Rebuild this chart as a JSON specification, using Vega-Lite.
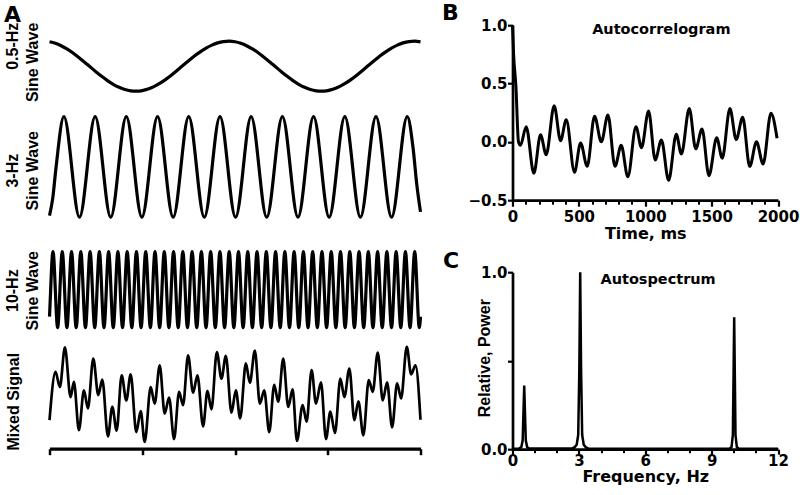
{
"$schema":"https://vega.github.io/schema/vega-lite/v6.json",
"padding":{"left":3.5,"top":1.2,"right":0,"bottom":12},
"bounds":"flush",
"spacing":92,
"config":{"view":{"stroke":null},
"axis":{"labelFont":"DejaVu Sans","labelFontSize":15,"labelFontWeight":"bold","labelColor":"black","titleFont":"DejaVu Sans","titleFontSize":16,"titleFontWeight":"bold","titleColor":"black","domainColor":"black","tickColor":"black","domainWidth":2.7,"tickWidth":2.2,"grid":false,"labelFlush":false,"labelOverlap":false}},
"datasets":{
"w05":[{"t":0,"v":0.976},{"t":0.0625,"v":0.915},{"t":0.125,"v":0.818},{"t":0.1875,"v":0.69},{"t":0.25,"v":0.536},{"t":0.3125,"v":0.361},{"t":0.375,"v":0.172},{"t":0.4375,"v":-0.024},{"t":0.5,"v":-0.218},{"t":0.5625,"v":-0.404},{"t":0.625,"v":-0.575},{"t":0.6875,"v":-0.723},{"t":0.75,"v":-0.844},{"t":0.8125,"v":-0.933},{"t":0.875,"v":-0.985},{"t":0.9375,"v":-1},{"t":1,"v":-0.976},{"t":1.0625,"v":-0.915},{"t":1.125,"v":-0.818},{"t":1.1875,"v":-0.69},{"t":1.25,"v":-0.536},{"t":1.3125,"v":-0.361},{"t":1.375,"v":-0.172},{"t":1.4375,"v":0.024},{"t":1.5,"v":0.218},{"t":1.5625,"v":0.404},{"t":1.625,"v":0.575},{"t":1.6875,"v":0.723},{"t":1.75,"v":0.844},{"t":1.8125,"v":0.933},{"t":1.875,"v":0.985},{"t":1.9375,"v":1},{"t":2,"v":0.976},{"t":2.0625,"v":0.915},{"t":2.125,"v":0.818},{"t":2.1875,"v":0.69},{"t":2.25,"v":0.536},{"t":2.3125,"v":0.361},{"t":2.375,"v":0.172},{"t":2.4375,"v":-0.024},{"t":2.5,"v":-0.218},{"t":2.5625,"v":-0.404},{"t":2.625,"v":-0.575},{"t":2.6875,"v":-0.723},{"t":2.75,"v":-0.844},{"t":2.8125,"v":-0.933},{"t":2.875,"v":-0.985},{"t":2.9375,"v":-1},{"t":3,"v":-0.976},{"t":3.0625,"v":-0.915},{"t":3.125,"v":-0.818},{"t":3.1875,"v":-0.69},{"t":3.25,"v":-0.536},{"t":3.3125,"v":-0.361},{"t":3.375,"v":-0.172},{"t":3.4375,"v":0.024},{"t":3.5,"v":0.218},{"t":3.5625,"v":0.404},{"t":3.625,"v":0.575},{"t":3.6875,"v":0.723},{"t":3.75,"v":0.844},{"t":3.8125,"v":0.933},{"t":3.875,"v":0.985},{"t":3.9375,"v":1},{"t":4,"v":0.976}],
"w3":[{"t":0,"v":-0.969},{"t":0.035,"v":-0.621},{"t":0.07,"v":-0.016},{"t":0.155,"v":1},{"t":0.323,"v":-1},{"t":0.492,"v":1},{"t":0.66,"v":-1},{"t":0.828,"v":1},{"t":0.996,"v":-1},{"t":1.165,"v":1},{"t":1.333,"v":-1},{"t":1.501,"v":1},{"t":1.669,"v":-1},{"t":1.838,"v":1},{"t":2.006,"v":-1},{"t":2.174,"v":1},{"t":2.342,"v":-1},{"t":2.511,"v":1},{"t":2.679,"v":-1},{"t":2.847,"v":1},{"t":3.015,"v":-1},{"t":3.184,"v":1},{"t":3.352,"v":-1},{"t":3.52,"v":1},{"t":3.688,"v":-1},{"t":3.857,"v":1},{"t":3.92,"v":0.376},{"t":3.96,"v":-0.353},{"t":4,"v":-0.894}],
"w10":[{"t":0,"v":-0.707},{"t":0.0125,"v":0},{"t":0.025,"v":0.707},
{"t":0.0375,"v":1},{"t":0.0875,"v":-1},{"t":0.1375,"v":1},{"t":0.1875,"v":-1},{"t":0.2375,"v":1},{"t":0.2875,"v":-1},{"t":0.3375,"v":1},{"t":0.3875,"v":-1},{"t":0.4375,"v":1},{"t":0.4875,"v":-1},{"t":0.5375,"v":1},{"t":0.5875,"v":-1},{"t":0.6375,"v":1},{"t":0.6875,"v":-1},{"t":0.7375,"v":1},{"t":0.7875,"v":-1},{"t":0.8375,"v":1},{"t":0.8875,"v":-1},{"t":0.9375,"v":1},{"t":0.9875,"v":-1},
{"t":1.0375,"v":1},{"t":1.0875,"v":-1},{"t":1.1375,"v":1},{"t":1.1875,"v":-1},{"t":1.2375,"v":1},{"t":1.2875,"v":-1},{"t":1.3375,"v":1},{"t":1.3875,"v":-1},{"t":1.4375,"v":1},{"t":1.4875,"v":-1},{"t":1.5375,"v":1},{"t":1.5875,"v":-1},{"t":1.6375,"v":1},{"t":1.6875,"v":-1},{"t":1.7375,"v":1},{"t":1.7875,"v":-1},{"t":1.8375,"v":1},{"t":1.8875,"v":-1},{"t":1.9375,"v":1},{"t":1.9875,"v":-1},
{"t":2.0375,"v":1},{"t":2.0875,"v":-1},{"t":2.1375,"v":1},{"t":2.1875,"v":-1},{"t":2.2375,"v":1},{"t":2.2875,"v":-1},{"t":2.3375,"v":1},{"t":2.3875,"v":-1},{"t":2.4375,"v":1},{"t":2.4875,"v":-1},{"t":2.5375,"v":1},{"t":2.5875,"v":-1},{"t":2.6375,"v":1},{"t":2.6875,"v":-1},{"t":2.7375,"v":1},{"t":2.7875,"v":-1},{"t":2.8375,"v":1},{"t":2.8875,"v":-1},{"t":2.9375,"v":1},{"t":2.9875,"v":-1},
{"t":3.0375,"v":1},{"t":3.0875,"v":-1},{"t":3.1375,"v":1},{"t":3.1875,"v":-1},{"t":3.2375,"v":1},{"t":3.2875,"v":-1},{"t":3.3375,"v":1},{"t":3.3875,"v":-1},{"t":3.4375,"v":1},{"t":3.4875,"v":-1},{"t":3.5375,"v":1},{"t":3.5875,"v":-1},{"t":3.6375,"v":1},{"t":3.6875,"v":-1},{"t":3.7375,"v":1},{"t":3.7875,"v":-1},{"t":3.8375,"v":1},{"t":3.8875,"v":-1},{"t":3.9375,"v":1},{"t":3.9875,"v":-1},{"t":4,"v":-0.707}],
"mix":[{"t":0,"v":-0.55},{"t":0.065,"v":0.47},{"t":0.112,"v":0.15},{"t":0.166,"v":0.99},{"t":0.227,"v":-0.06},{"t":0.263,"v":0.26},{"t":0.317,"v":-0.76},{"t":0.371,"v":0.08},{"t":0.414,"v":-0.3},{"t":0.472,"v":0.75},{"t":0.526,"v":-0.02},{"t":0.569,"v":0.31},{"t":0.63,"v":-0.89},{"t":0.677,"v":-0.27},{"t":0.724,"v":-0.77},{"t":0.778,"v":0.4},{"t":0.828,"v":-0.13},{"t":0.875,"v":0.42},{"t":0.936,"v":-0.8},{"t":0.983,"v":-0.36},{"t":1.026,"v":-1.01},{"t":1.091,"v":0.15},{"t":1.134,"v":-0.2},{"t":1.188,"v":0.61},{"t":1.242,"v":-0.41},{"t":1.289,"v":-0.07},{"t":1.343,"v":-0.95},{"t":1.397,"v":0.05},{"t":1.44,"v":-0.23},{"t":1.494,"v":0.82},{"t":1.548,"v":0.03},{"t":1.595,"v":0.4},{"t":1.656,"v":-0.68},{"t":1.703,"v":0.07},{"t":1.746,"v":-0.32},{"t":1.804,"v":0.89},{"t":1.854,"v":0.33},{"t":1.901,"v":0.81},{"t":1.962,"v":-0.39},{"t":2.009,"v":0.08},{"t":2.056,"v":-0.51},{"t":2.117,"v":0.65},{"t":2.16,"v":0.24},{"t":2.214,"v":0.92},{"t":2.268,"v":-0.2},{"t":2.315,"v":0.08},{"t":2.369,"v":-0.8},{"t":2.423,"v":0.2},{"t":2.466,"v":-0.16},{"t":2.52,"v":0.75},{"t":2.574,"v":-0.27},{"t":2.621,"v":0.1},{"t":2.668,"v":-0.99},{"t":2.729,"v":-0.23},{"t":2.772,"v":-0.58},{"t":2.826,"v":0.51},{"t":2.873,"v":-0.2},{"t":2.927,"v":0.25},{"t":2.981,"v":-0.95},{"t":3.028,"v":-0.37},{"t":3.078,"v":-0.82},{"t":3.136,"v":0.33},{"t":3.179,"v":-0.06},{"t":3.233,"v":0.54},{"t":3.287,"v":-0.55},{"t":3.33,"v":-0.15},{"t":3.384,"v":-0.87},{"t":3.442,"v":0.3},{"t":3.485,"v":0.05},{"t":3.539,"v":0.88},{"t":3.593,"v":-0.13},{"t":3.64,"v":0.25},{"t":3.694,"v":-0.7},{"t":3.748,"v":0.23},{"t":3.791,"v":-0.09},{"t":3.852,"v":1.0},{"t":3.899,"v":0.42},{"t":3.946,"v":0.61},{"t":4,"v":-0.54}],
"acg":[{"t":0,"v":1.0},{"t":8,"v":0.76},{"t":26,"v":0.47},{"t":45,"v":0.0},{"t":60,"v":-0.03},{"t":103,"v":0.13},{"t":161,"v":-0.27},{"t":211,"v":0.06},{"t":254,"v":-0.11},{"t":314,"v":0.31},{"t":362,"v":0.01},{"t":405,"v":0.19},{"t":467,"v":-0.26},{"t":513,"v":-0.01},{"t":563,"v":-0.21},{"t":618,"v":0.22},{"t":669,"v":0.0},{"t":719,"v":0.23},{"t":772,"v":-0.21},{"t":819,"v":-0.03},{"t":869,"v":-0.3},{"t":930,"v":0.13},{"t":972,"v":-0.05},{"t":1025,"v":0.265},{"t":1075,"v":-0.155},{"t":1122,"v":0.015},{"t":1176,"v":-0.33},{"t":1234,"v":0.065},{"t":1272,"v":-0.105},{"t":1332,"v":0.285},{"t":1380,"v":-0.06},{"t":1428,"v":0.11},{"t":1480,"v":-0.29},{"t":1538,"v":0.035},{"t":1580,"v":-0.14},{"t":1638,"v":0.285},{"t":1685,"v":0.02},{"t":1734,"v":0.21},{"t":1787,"v":-0.21},{"t":1838,"v":0.0},{"t":1888,"v":-0.19},{"t":1947,"v":0.245},{"t":1993,"v":0.03}],
"spec":[{"f":0,"p":0.003},{"f":0.3,"p":0.004},{"f":0.4,"p":0.012},{"f":0.46,"p":0.05},{"f":0.53,"p":0.36},{"f":0.6,"p":0.05},{"f":0.66,"p":0.012},{"f":0.75,"p":0.004},{"f":2.7,"p":0.004},{"f":2.8,"p":0.01},{"f":2.9,"p":0.025},{"f":2.97,"p":0.08},{"f":3.02,"p":0.45},{"f":3.06,"p":1.0},{"f":3.1,"p":0.45},{"f":3.15,"p":0.08},{"f":3.22,"p":0.025},{"f":3.32,"p":0.01},{"f":3.42,"p":0.004},{"f":9.8,"p":0.003},{"f":9.9,"p":0.012},{"f":9.96,"p":0.08},{"f":10.02,"p":0.745},{"f":10.08,"p":0.08},{"f":10.14,"p":0.012},{"f":10.24,"p":0.003},{"f":12,"p":0.002}]
},
"hconcat":[
 {"width":371,"height":423.5,
  "title":{"text":"A","anchor":"start","frame":"group","orient":"top","offset":0,"dx":-45.5,"dy":22,"baseline":"alphabetic","font":"DejaVu Sans","fontSize":22,"fontWeight":"bold","color":"black"},
  "encoding":{"x":{"field":"t","type":"quantitative","scale":{"domain":[0,4],"nice":false},
    "axis":{"values":[0,1,2,3,4],"labels":false,"title":null,"tickSize":6,"tickWidth":2.5,"domainWidth":3.2}}},
  "layer":[
   {"data":{"name":"w05"},
    "mark":{"type":"line","interpolate":"monotone","color":"black","strokeWidth":3.2},
    "encoding":{"y":{"field":"v","type":"quantitative","scale":{"domain":[-1,1],"range":[66,16],"nice":false,"zero":false},
     "axis":{"orient":"left","title":["0.5-Hz","Sine Wave"],"domain":false,"ticks":false,"labels":false,"titleFont":"Liberation Sans","titleFontSize":16,"titleFontWeight":"bold","titleAngle":270,"titleAlign":"right","titleBaseline":"alphabetic","titleLineHeight":20,"titleX":-32,"titleY":-3}}}},
   {"data":{"name":"w3"},
    "mark":{"type":"line","interpolate":"monotone","color":"black","strokeWidth":3.2},
    "encoding":{"y":{"field":"v","type":"quantitative","scale":{"domain":[-1,1],"range":[192,91.5],"nice":false,"zero":false},
     "axis":{"orient":"left","title":["3-Hz","Sine Wave"],"domain":false,"ticks":false,"labels":false,"titleFont":"Liberation Sans","titleFontSize":16,"titleFontWeight":"bold","titleAngle":270,"titleAlign":"center","titleBaseline":"alphabetic","titleLineHeight":20,"titleX":-32,"titleY":145}}}},
   {"data":{"name":"w10"},
    "mark":{"type":"line","interpolate":"monotone","color":"black","strokeWidth":3.2},
    "encoding":{"y":{"field":"v","type":"quantitative","scale":{"domain":[-1,1],"range":[302.5,226.5],"nice":false,"zero":false},
     "axis":{"orient":"left","title":["10-Hz","Sine Wave"],"domain":false,"ticks":false,"labels":false,"titleFont":"Liberation Sans","titleFontSize":16,"titleFontWeight":"bold","titleAngle":270,"titleAlign":"center","titleBaseline":"alphabetic","titleLineHeight":20,"titleX":-32,"titleY":265}}}},
   {"data":{"name":"mix"},
    "mark":{"type":"line","interpolate":"monotone","color":"black","strokeWidth":2.7},
    "encoding":{"y":{"field":"v","type":"quantitative","scale":{"domain":[-1,1],"range":[416.3,321.7],"nice":false,"zero":false},
     "axis":{"orient":"left","title":"Mixed Signal","domain":false,"ticks":false,"labels":false,"titleFont":"Liberation Sans","titleFontSize":16,"titleFontWeight":"bold","titleAngle":270,"titleAlign":"center","titleBaseline":"alphabetic","titleX":-31,"titleY":376}}}}
  ],
  "resolve":{"scale":{"y":"independent"},"axis":{"y":"independent"}}},
 {"vconcat":[
  {"width":265.5,"height":175,
   "title":{"text":"B","anchor":"start","frame":"group","orient":"top","offset":0,"dx":-70.5,"dy":23.5,"baseline":"alphabetic","font":"DejaVu Sans","fontSize":22,"fontWeight":"bold","color":"black"},
   "encoding":{"y":{"field":"v","type":"quantitative","scale":{"domain":[-0.5,1],"nice":false,"zero":false},"axis":{"values":[-0.5,0,0.5,1],"format":".1f","title":null,"tickSize":5,"labelPadding":0.5}}},
   "layer":[
    {"data":{"name":"acg"},"mark":{"type":"line","interpolate":"monotone","color":"black","strokeWidth":3},
     "encoding":{"x":{"field":"t","type":"quantitative","scale":{"domain":[0,2000],"nice":false},"axis":{"values":[0,500,1000,1500,2000],"format":"d","title":"Time, ms","tickSize":6,"labelPadding":3.5,"titleY":38.5,"titleBaseline":"alphabetic"}}}},
    {"data":{"name":"acg"},"mark":{"type":"line","opacity":0},
     "encoding":{"x":{"field":"t","type":"quantitative","axis":{"orient":"bottom","values":[100,200,300,400,600,700,800,900,1100,1200,1300,1400,1600,1700,1800,1900],"labels":false,"domain":false,"title":null,"tickSize":4,"tickWidth":2}}}},
    {"data":{"values":[{"t":1121,"v":0.923,"label":"Autocorrelogram"}]},"mark":{"type":"text","font":"DejaVu Sans","fontSize":14.5,"fontWeight":"bold","baseline":"alphabetic","align":"center","color":"black"},
     "encoding":{"x":{"field":"t","type":"quantitative","axis":null},"text":{"field":"label"}}}
   ],
   "resolve":{"axis":{"x":"independent"}}},
  {"width":265.5,"height":177,
   "title":{"text":"C","anchor":"start","frame":"group","orient":"top","offset":0,"dx":-69.5,"dy":24.5,"baseline":"alphabetic","font":"DejaVu Sans","fontSize":22,"fontWeight":"bold","color":"black"},
   "encoding":{"y":{"field":"p","type":"quantitative","scale":{"domain":[0,1],"nice":false,"zero":false},"axis":{"values":[0,0.5,1],"labelExpr":"datum.value == 0.5 ? '' : format(datum.value, '.1f')","title":"Relative, Power","tickSize":5,"labelPadding":0.5,"titleFont":"Liberation Sans","titleFontSize":16,"titleAngle":270,"titleAlign":"center","titleBaseline":"alphabetic","titleX":-23,"titleY":85.5}}},
   "layer":[
    {"data":{"name":"spec"},"mark":{"type":"line","color":"black","strokeWidth":2.5},
     "encoding":{"x":{"field":"f","type":"quantitative","scale":{"domain":[0,12],"nice":false},"axis":{"values":[0,3,6,9,12],"title":"Frequency, Hz","tickSize":5,"labelPadding":-1,"titleY":32,"titleBaseline":"alphabetic"}}}},
    {"data":{"name":"spec"},"mark":{"type":"line","opacity":0},
     "encoding":{"x":{"field":"f","type":"quantitative","axis":{"orient":"bottom","values":[1,2,4,5,7,8,10,11],"labels":false,"domain":false,"title":null,"tickSize":3.5,"tickWidth":2}}}},
    {"data":{"values":[{"f":6.58,"p":0.936,"label":"Autospectrum"}]},"mark":{"type":"text","font":"DejaVu Sans","fontSize":14.5,"fontWeight":"bold","baseline":"alphabetic","align":"center","color":"black"},
     "encoding":{"x":{"field":"f","type":"quantitative","axis":null},"text":{"field":"label"}}}
   ],
   "resolve":{"axis":{"x":"independent"}}}
 ],"spacing":72,"bounds":"flush"}
]
}
